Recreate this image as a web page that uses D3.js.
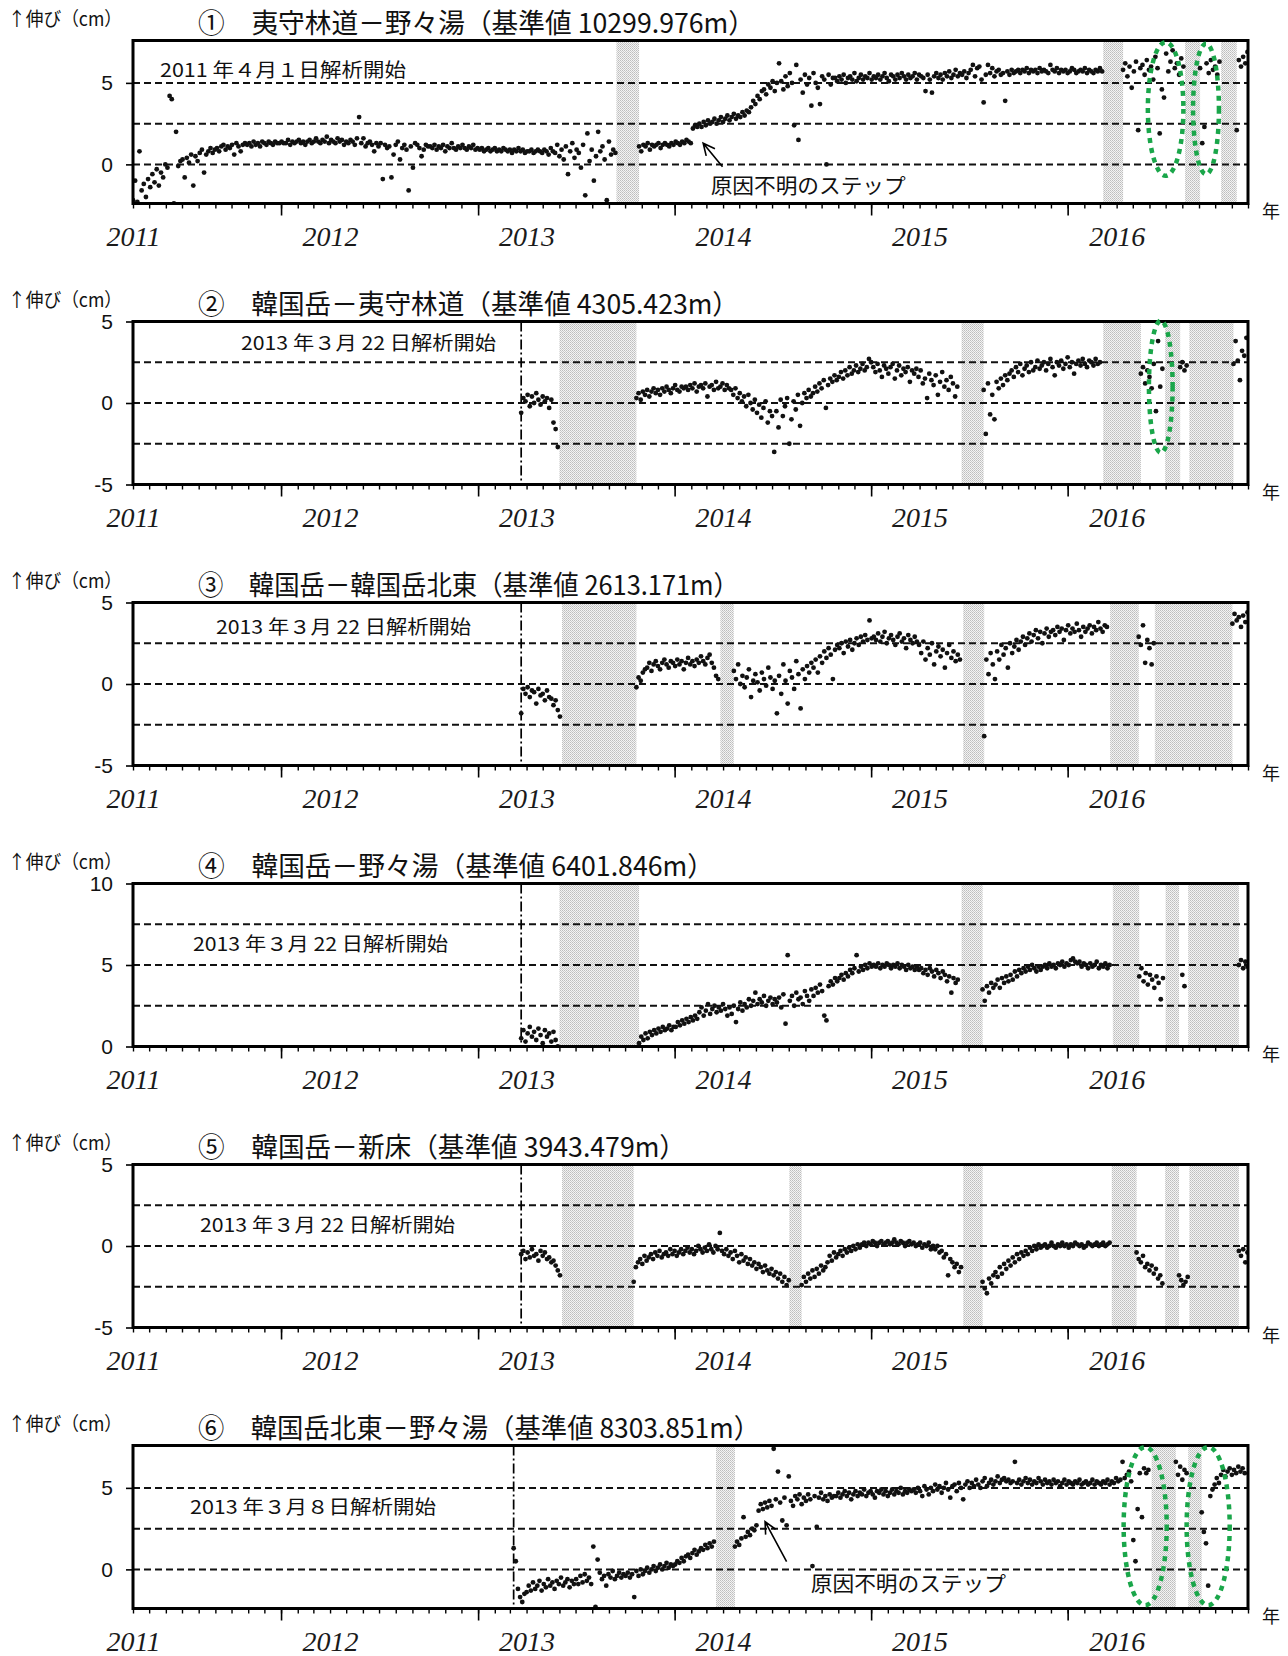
<!DOCTYPE html>
<html><head><meta charset="utf-8">
<script src="https://cdn.jsdelivr.net/npm/d3@7"></script>
<style>body{margin:0;background:#fff}svg{display:block;background:#fff}</style>
</head><body>
<svg id="c" width="1288" height="1656"></svg>
<script>
// ---------------- DATA ----------------
const STEP_DAYS = 4; // readings are sampled every 4 days inside each continuous segment
const titles = [
  "①　夷守林道－野々湯（基準値 10299.976m）",
  "②　韓国岳－夷守林道（基準値 4305.423m）",
  "③　韓国岳－韓国岳北東（基準値 2613.171m）",
  "④　韓国岳－野々湯（基準値 6401.846m）",
  "⑤　韓国岳－新床（基準値 3943.479m）",
  "⑥　韓国岳北東－野々湯（基準値 8303.851m）"
];
const notes = [
  "2011 年４月１日解析開始",
  "2013 年３月 22 日解析開始",
  "2013 年３月 22 日解析開始",
  "2013 年３月 22 日解析開始",
  "2013 年３月 22 日解析開始",
  "2013 年３月８日解析開始"
];
const analysisStart = ["2011-04-01","2013-03-22","2013-03-22","2013-03-22","2013-03-22","2013-03-08"];
const yDomains = [[-2.4,7.6],[-5,5],[-5,5],[0,10],[-5,5],[-2.4,7.6]];
const yTickVals = [[0,5],[-5,0,5],[-5,0,5],[0,5,10],[-5,0,5],[0,5]];
const gridVals = [[0,2.5,5],[-2.5,0,2.5],[-2.5,0,2.5],[2.5,5,7.5],[-2.5,0,2.5],[0,2.5,5]];
const yearLabels = ["2011","2012","2013","2014","2015","2016"];
const yearLabelDates = ["2011-04-01","2012-04-01","2013-04-01","2014-04-01","2015-04-01","2016-04-01"];
const unitLabel = "↑伸び（cm）";
const axisUnit = "年";
const stepText = "原因不明のステップ";

// Panel 1
const p1Starts = ["2011-04-01","2013-10-27","2016-04-13","2016-09-03","2016-11-10"];
const p1Values = [
 [-2.2,-1.0,-2.3,0.8,-1.6,-1.2,-2.0,-0.9,-1.4,-0.6,-1.1,-0.3,-1.3,-0.5,-0.8,0.0,-0.2,4.2,4.0,-2.4,2.0,-0.1,0.2,
  0.3,-0.8,0.4,0.1,0.6,-1.3,0.5,0.2,0.7,0.9,-0.5,0.6,0.8,1.0,0.7,0.9,1.0,0.8,1.1,1.2,0.9,1.1,1.0,
  1.2,0.6,1.3,1.1,0.8,1.2,1.3,1.2,1.3,1.1,1.4,1.2,1.3,1.1,1.4,1.3,1.2,1.4,1.3,1.2,1.4,1.3,1.3,
  1.4,1.3,1.3,1.5,1.2,1.4,1.3,1.4,1.5,1.3,1.4,1.2,1.4,1.5,1.3,1.4,1.6,1.4,1.3,1.5,1.4,1.7,1.3,
  1.5,1.4,1.3,1.6,1.4,1.5,1.2,1.4,1.3,1.5,1.4,1.2,1.6,2.9,1.3,1.6,1.1,1.3,1.4,1.2,0.8,1.3,1.1,
  1.3,-0.9,1.2,1.0,1.1,-0.8,0.6,1.2,1.4,0.3,1.0,1.2,0.9,-1.6,1.1,-0.2,1.3,1.2,1.0,0.5,0.9,1.2,1.1,
  1.1,1.0,1.2,0.9,1.1,1.0,1.2,0.8,1.1,1.0,1.3,1.0,0.9,1.1,1.0,1.2,1.0,0.9,1.1,1.0,1.2,0.9,1.0,
  0.9,1.0,0.8,0.9,1.0,0.8,0.9,1.0,0.8,0.9,0.8,1.0,0.9,0.8,0.9,0.7,0.9,0.8,1.0,0.8,0.9,0.7,0.8,
  0.8,0.9,0.7,0.8,0.9,0.8,0.7,0.9,0.8,0.6,1.0,0.8,0.7,1.2,0.5,0.9,0.3,1.1,-0.6,0.8,1.3,0.4,0.9,
  0.7,-0.2,1.2,-1.9,1.9,0.2,0.9,-1.0,0.5,2.0,0.8,1.1,0.3,-2.2,1.4,0.6,0.9,0.7],
 [1.1,0.8,1.2,1.1,1.3,0.9,1.2,1.1,1.2,1.3,1.0,1.2,1.3,1.2,1.1,1.3,1.2,1.4,1.3,1.2,1.4,1.3,1.5,1.4,1.3,
  2.2,2.4,2.3,2.5,2.3,2.6,2.4,2.7,2.5,2.6,2.8,2.5,2.7,2.9,2.6,
  2.8,3.0,2.7,2.9,3.1,2.8,3.0,2.9,3.2,3.0,3.3,3.2,
  3.5,3.9,3.7,4.2,4.0,4.5,
  4.6,4.3,4.9,4.7,5.1,4.5,5.0,6.2,
  5.1,4.6,5.4,4.8,5.6,5.0,2.4,6.1,1.5,5.2,4.4,5.5,4.9,5.3,3.6,5.6,5.0,4.7,3.7,5.4,5.2,0.0,5.5,4.9,5.3,
  5.3,5.1,5.4,5.2,5.5,5.0,5.3,5.4,5.2,5.6,5.1,5.3,5.5,5.2,5.4,5.3,5.6,5.2,
  5.4,5.3,5.5,5.2,5.4,5.6,5.3,5.1,5.5,5.4,5.2,5.5,5.3,5.6,5.4,5.2,5.5,5.3,5.4,5.6,5.2,5.5,5.4,
  5.3,4.5,5.5,5.2,4.4,5.4,5.6,5.3,5.5,5.2,5.6,5.4,5.7,5.3,5.5,5.8,5.4,5.6,5.5,5.7,5.3,5.6,5.8,
  6.1,5.4,5.9,6.0,5.2,3.8,5.5,6.1,5.6,5.9,5.4,5.7,5.8,5.5,5.6,3.9,5.7,5.5,5.8,5.6,
  5.7,5.8,5.6,5.8,5.7,5.9,5.6,5.8,5.7,5.8,5.6,5.9,5.7,5.8,5.7,5.6,6.1,5.8,5.7,5.9,5.6,5.8,5.7,5.8,5.6,5.7,5.9,5.8,5.6,5.7,5.8,5.7,5.9,5.6,5.8,5.7,5.6,5.8,5.7,5.9,5.7],
 [5.8,6.2,5.4,6.0,4.7,5.7,6.3,2.1,5.9,6.1,5.5,6.4,5.8,6.0,5.2,6.6,5.9,1.9,4.6,4.1,6.8,5.7,6.3,7.0,5.9,6.2,5.5,6.5,6.0],
 [5.9,1.3,2.3,6.2,5.6,6.4,5.8,6.0,5.5,6.3],
 [2.1,6.4,6.0,6.6,6.2,6.9]
];
const p1Bands = [["2013-09-15","2013-10-26"],["2016-03-07","2016-04-12"],["2016-08-06","2016-09-02"],["2016-10-12","2016-11-09"]];

// Panel 2
const p2Starts = ["2013-03-22","2013-10-22","2015-07-29","2016-05-16","2016-07-28","2016-11-04"];
const p2Values = [
 [-0.6,0.3,0.1,0.5,-0.2,0.4,0.0,0.6,0.2,-0.1,0.4,0.1,0.3,-0.3,0.2,-1.2,-1.6,-2.7],
 [0.3,0.6,0.2,0.7,0.5,0.8,0.4,0.7,0.9,0.6,0.8,0.5,0.9,0.7,1.0,0.8,0.6,0.9,1.1,0.8,0.7,1.0,0.9,
  1.0,0.8,1.1,0.9,1.2,0.7,1.0,1.1,0.9,1.2,0.4,1.0,1.1,0.8,1.3,0.9,1.0,1.2,0.8,1.1,0.9,
  0.8,0.5,0.9,0.3,0.6,0.1,0.4,-0.2,0.5,0.0,-0.4,0.2,-0.6,-0.1,-0.9,-0.3,0.1,-1.2,-0.5,-0.8,-3.0,
  -0.5,-1.5,0.2,-0.8,-0.2,0.3,-2.5,-1.0,0.1,-0.4,0.5,-1.4,0.0,0.6,0.3,0.8,0.4,
  0.6,1.0,0.7,1.2,0.9,1.4,-0.3,1.1,1.5,1.3,1.7,1.4,
  1.6,1.9,1.5,2.0,1.7,2.2,1.8,2.0,2.3,1.9,2.1,2.4,2.0,2.2,2.7,2.5,
  2.2,1.9,2.4,2.0,1.6,2.3,2.1,1.8,2.2,2.4,1.5,2.0,2.3,1.7,2.1,1.9,2.2,1.3,2.0,1.8,2.1,
  1.6,2.0,1.2,1.5,0.3,1.8,1.4,1.1,1.7,0.5,1.3,1.9,1.0,1.4,0.8,1.6,1.2,0.4,1.0],
 [0.8,-1.9,1.2,-0.7,0.5,-1.0,1.3,0.9,1.5,1.1,1.7,1.4,1.8,
  2.0,1.6,2.2,1.9,2.4,1.7,2.1,2.3,1.9,2.5,2.0,2.2,2.6,2.1,
  2.3,2.5,2.0,2.4,2.7,2.2,1.7,2.5,2.3,2.6,2.1,2.4,2.8,2.2,2.5,1.8,2.4,2.6,2.3,2.7,2.4,2.2,2.6,2.5,2.3,2.7,2.4,2.5],
 [1.8,2.2,1.2,2.0,1.6,0.9,2.4,-0.5,3.8,1.0,2.1],
 [2.2,2.5,2.0,2.3],
 [2.4,3.8,2.6,1.4,3.2,2.9,4.0]
];
const p2Bands = [["2013-06-01","2013-10-21"],["2015-06-18","2015-07-28"],["2016-03-07","2016-05-15"],["2016-06-30","2016-07-27"],["2016-08-14","2016-11-03"]];

// Panel 3
const p3Starts = ["2013-03-22","2013-10-22","2014-04-21","2015-07-30","2016-05-12","2016-11-02"];
const p3Values = [
 [-1.8,-0.3,-0.6,-0.2,-0.8,-0.4,-0.5,-1.2,-0.3,-0.7,-0.6,-1.0,-0.4,-0.8,-0.9,-1.3,-1.0,-1.6,-2.0],
 [-0.2,0.4,0.2,0.7,0.9,1.0,1.3,0.8,1.2,1.4,1.1,0.9,1.3,1.5,1.2,1.0,1.4,1.3,1.1,1.5,1.2,1.4,0.9,1.3,1.6,1.2,1.4,1.1,1.5,1.3,1.7,1.4,1.2,1.6,1.8,1.3,1.0,0.5,0.3],
 [0.8,0.3,1.2,0.0,0.5,-0.2,0.4,0.9,-0.8,0.2,0.6,0.1,-0.4,0.7,0.3,-0.1,1.0,0.4,-0.3,0.2,
  -1.8,0.5,-0.6,1.2,0.2,-1.2,0.8,0.4,-0.3,1.4,0.6,-1.5,0.9,0.3,1.1,0.7,1.3,
  1.0,1.5,0.7,1.7,1.3,2.0,1.6,2.2,1.8,0.3,2.1,2.4,
  2.2,2.5,1.9,2.6,2.3,2.7,2.1,2.5,2.8,2.4,2.9,2.6,3.0,2.7,3.9,2.8,
  2.9,2.7,3.1,2.6,2.9,3.2,2.5,2.8,3.0,2.7,2.4,2.9,3.1,2.6,2.8,2.2,3.0,2.7,2.5,2.9,2.6,
  2.4,1.9,2.6,1.5,2.2,1.8,2.5,1.2,2.0,2.3,1.7,2.1,1.0,1.9,2.4,1.6,2.0,1.4,1.8,1.5],
 [-3.2,1.5,0.6,1.9,1.2,0.3,
  2.0,1.5,2.4,1.8,2.2,1.0,2.5,1.9,2.3,2.7,2.1,2.6,2.9,2.4,
  2.8,3.1,2.6,3.0,3.3,2.8,3.2,2.5,3.1,3.4,2.9,3.2,
  3.3,3.0,3.5,3.2,3.4,2.7,3.3,3.6,3.1,3.4,3.2,3.7,3.3,2.9,3.5,3.2,3.4,3.6,3.1,3.5,3.3,3.8,3.4,3.2,3.6,3.5],
 [2.9,2.4,3.6,1.3,2.7,2.2,1.2,2.5],
 [3.7,4.3,3.9,4.1,3.5,4.2,3.8,4.4]
];
const p3Bands = [["2013-06-06","2013-10-21"],["2014-03-27","2014-04-20"],["2015-06-21","2015-07-29"],["2016-03-20","2016-05-11"],["2016-06-11","2016-11-01"]];

// Panel 4
const p4Starts = ["2013-03-22","2013-10-27","2015-07-27","2016-05-13","2016-08-01","2016-11-14"];
const p4Values = [
 [0.5,1.0,0.3,0.8,1.2,0.6,0.9,0.4,1.1,0.7,0.2,1.0,0.6,0.8,0.3,0.9,0.4,0.0],
 [0.2,0.6,0.4,0.8,0.5,0.9,0.7,1.0,0.8,1.1,0.9,1.2,1.0,1.1,1.3,1.0,1.2,
  1.2,1.5,1.3,1.6,1.4,1.7,1.5,1.8,1.6,1.9,1.7,2.1,2.4,1.9,2.2,2.6,2.0,2.3,2.5,2.1,2.4,2.2,2.6,2.3,1.9,2.4,
  2.0,2.5,1.5,2.3,2.7,2.2,2.6,2.4,2.9,2.5,2.8,3.3,2.6,2.9,2.7,3.1,2.5,2.8,3.0,2.6,2.9,
  2.7,3.0,2.4,3.2,1.4,5.6,2.8,3.1,2.5,3.3,2.9,3.0,2.6,3.4,3.1,2.8,3.5,
  3.1,3.6,3.3,3.8,3.4,1.9,1.6,3.7,4.0,3.8,4.2,4.0,
  4.2,4.4,4.1,4.5,4.3,4.7,4.5,4.8,5.6,4.6,4.9,4.7,5.0,4.8,5.1,4.9,
  5.0,4.9,5.1,4.8,5.0,4.9,5.1,5.0,4.8,5.0,4.9,5.1,4.8,5.0,4.9,4.7,5.0,4.8,4.9,4.7,4.9,
  4.7,4.8,4.5,4.7,4.4,4.8,4.6,4.3,4.7,4.5,4.2,4.6,4.4,4.0,4.3,3.3,4.2,3.9,4.1],
 [3.5,2.8,3.7,3.3,3.9,3.6,
  3.8,4.1,3.6,4.2,3.9,4.3,4.0,4.4,4.1,4.6,4.3,4.7,4.5,
  4.8,4.6,4.9,4.7,5.0,4.8,4.6,4.9,4.7,
  4.9,5.0,4.8,5.1,4.9,5.0,4.8,5.1,5.0,5.2,4.9,5.1,5.0,5.3,5.4,5.2,
  5.1,5.2,4.9,5.1,5.0,4.8,5.1,4.9,5.0,5.2,4.8,5.0,4.9,5.1,4.8,5.0],
 [4.3,4.8,4.0,4.5,3.8,4.4,4.1,3.6,4.3,3.9,2.9,4.2],
 [4.4,3.7],
 [5.0,5.3,4.8,5.2,4.9]
];
const p4Bands = [["2013-06-01","2013-10-26"],["2015-06-18","2015-07-26"],["2016-03-25","2016-05-12"],["2016-07-01","2016-07-25"],["2016-08-12","2016-11-13"]];

// Panel 5
const p5Starts = ["2013-03-22","2013-10-17","2014-08-25","2015-07-27","2016-05-08","2016-07-26","2016-11-14"];
const p5Values = [
 [-0.5,-0.3,-0.8,-0.4,-0.7,-0.2,-0.6,-0.5,-0.9,-0.3,-0.6,-0.4,-0.8,-0.7,-1.0,-0.9,-1.2,-1.5,-1.8],
 [-2.2,-1.3,-1.0,-0.8,-1.1,-0.6,-0.9,
  -0.7,-0.5,-0.8,-0.4,-0.6,-0.3,-0.7,-0.5,-0.4,-0.6,-0.2,-0.5,-0.3,-0.6,-0.4,-0.2,-0.5,-0.3,-0.1,-0.4,-0.2,-0.5,-0.3,0.0,-0.2,-0.4,-0.1,-0.3,0.1,-0.2,-0.4,0.0,-0.2,0.8,-0.3,-0.5,-0.2,-0.6,
  -0.4,-0.8,-0.3,-0.6,-1.0,-0.5,-0.9,-0.7,-1.1,-0.8,-1.2,-1.0,-1.4,-1.1,-1.3,-1.6,-1.2,-1.5,-1.7,-1.4,-1.8,-1.6,-2.0,-1.7,-2.2,-1.9,-2.4,-2.1],
 [-2.4,-1.9,-2.2,-1.7,-2.0,-1.5,-1.9,-1.4,-1.7,-1.2,-1.5,-1.3,
  -1.0,-0.6,-0.9,-0.4,-0.7,
  -0.5,-0.3,-0.6,-0.2,-0.4,-0.1,-0.3,0.0,-0.2,0.1,-0.1,
  0.1,0.2,0.0,0.2,0.1,0.3,0.2,0.0,0.2,0.3,0.1,0.2,0.3,0.1,0.2,0.4,0.2,0.1,0.3,0.2,0.0,0.2,0.3,0.1,0.2,0.0,0.1,0.2,-0.1,0.1,0.0,0.2,-0.2,0.0,
  -0.2,0.0,-0.4,-0.3,-0.7,-0.5,-1.8,-0.8,-1.0,-1.3,-1.1,-1.6,-1.3],
 [-2.2,-2.6,-2.9,-2.0,-2.3,-1.8,
  -1.6,-1.9,-1.3,-1.7,-1.1,-1.4,-0.9,-1.2,-0.7,-1.0,-0.5,-0.8,-0.4,-0.6,
  -0.3,-0.5,-0.1,-0.3,0.0,-0.2,0.1,-0.1,
  0.0,0.1,-0.1,0.0,0.2,0.0,-0.1,0.1,0.0,0.2,0.0,0.1,-0.1,0.1,0.0,0.2,0.1,0.0,0.1,-0.1,0.0,0.2,0.1,0.0,0.1,0.2,0.0,0.1,0.2,0.0,0.1,0.2],
 [-0.4,-0.8,-1.0,-0.6,-1.3,-1.1,-1.5,-1.2,-1.7,-1.4,-2.0,-1.8,-2.3],
 [-1.8,-2.1,-2.4,-2.2,-1.9],
 [-0.3,-0.6,-0.2,-1.0,-0.4]
];
const p5Bands = [["2013-06-06","2013-10-16"],["2014-08-02","2014-08-24"],["2015-06-21","2015-07-26"],["2016-03-23","2016-05-07"],["2016-06-30","2016-07-25"],["2016-08-14","2016-11-13"]];

// Panel 6
const p6Starts = ["2013-03-08","2014-04-23","2014-06-06","2016-07-20","2016-09-06"];
const p6Values = [
 [1.3,0.5,-1.2,-1.7,-2.0,-1.5,
  -1.4,-1.0,-1.3,-0.8,-1.2,-1.0,-0.7,-1.3,-0.9,-1.1,-0.6,-1.0,-0.8,-1.2,-0.7,-0.9,-0.5,-1.0,-0.8,-0.6,-1.1,-0.7,-0.9,
  -0.6,-0.9,-0.4,-0.8,-0.3,-0.7,-0.5,-0.9,1.4,-2.3,0.6,-0.2,-0.6,-0.4,-1.0,-0.3,-0.5,-0.1,-0.6,-0.4,-0.2,-0.5,-0.3,
  -0.4,-0.2,-0.5,-0.3,-1.7,-0.1,-0.4,0.0,-0.3,-0.1,0.1,-0.2,0.0,0.2,-0.1,0.1,0.3,0.0,0.2,0.4,0.1,0.3,0.2,
  0.3,0.5,0.4,0.7,0.5,0.8,0.9,0.7,1.0,1.2,0.9,1.1,1.3,1.2,1.5,1.3,1.6,1.4,1.7],
 [1.4,1.7,1.5,1.9,3.2,2.0,2.3,2.1,2.5,2.4,2.7],
 [3.6,4.0,3.7,4.1,3.8,4.2,3.9,7.4,
  4.3,6.0,4.1,3.0,4.4,2.7,5.7,4.2,3.9,4.5,4.3,4.6,4.0,
  4.4,4.2,4.6,4.3,0.2,4.5,2.6,4.4,4.7,4.3,4.5,4.2,4.6,4.4,4.5,
  4.5,4.7,4.4,4.6,4.8,4.5,4.7,4.3,4.6,4.8,4.5,4.7,4.6,4.9,4.5,4.7,4.8,4.6,4.4,4.8,4.7,4.9,4.6,4.8,4.5,4.7,4.9,4.6,4.8,4.7,5.0,4.6,4.8,4.7,4.9,4.8,
  4.9,4.7,5.0,4.8,4.5,5.1,4.9,4.6,5.0,4.8,5.2,4.9,5.1,4.7,5.0,5.3,4.9,4.4,5.1,5.2,4.8,5.3,5.0,4.3,5.2,5.4,5.0,5.3,5.1,5.5,5.2,5.0,5.4,5.6,5.1,5.3,5.5,5.2,5.4,5.7,5.3,5.5,5.6,5.4,5.5,5.3,
  5.4,6.6,5.3,5.5,5.2,5.4,5.6,5.3,5.5,5.2,5.4,5.3,5.6,5.4,5.2,5.5,5.3,5.4,5.2,5.5,5.3,5.4,5.1,5.3,5.5,5.2,5.4,5.3,5.2,5.4,5.3,5.5,5.2,5.3,5.4,5.2,5.3,5.5,5.2,5.4,5.3,5.2,5.4,5.3,5.5,5.2,5.4,5.3,5.6,5.4,
  5.5,6.6,5.6,5.8,6.0,5.4,1.8,0.5,3.7,5.9,3.2,6.2,5.9,6.1],
 [6.6,5.8,6.3,5.5,6.1,5.9],
 [3.5,2.3,1.6,-1.0,4.5,4.9,5.2,5.6,5.3,5.8,6.1,5.7,6.0,6.2,5.8,6.1,5.9,6.3,6.0,6.2,5.9]
];
const p6Bands = [["2014-03-19","2014-04-22"],["2016-06-05","2016-07-19"],["2016-08-12","2016-09-05"]];

// highlighted periods (green dotted ellipses): [centre date, centre value, half-width days, half-height cm]
const p1Ellipses = [["2016-07-01",3.4,33,4.1],["2016-09-14",3.4,24,4.0]];
const p2Ellipses = [["2016-06-22",1.0,22,4.05]];
const p6Ellipses = [["2016-05-24",2.65,40,4.85],["2016-09-18",2.65,40,4.85]];
// "unknown-cause step" arrows: panel index, tip [date,value], tail [date,value], text anchor [date,value]
const stepPanels = [0,5];
const stepTips = [["2014-02-23",1.3],["2014-06-18",2.93]];
const stepTails = [["2014-03-31",-0.15],["2014-07-28",0.47]];
const stepTextAt = [["2014-03-09",-1.75],["2014-09-11",-1.33]];

// ---------------- LAYOUT ----------------
const X0 = 133, X1 = 1248, PH = 163;
const panelTop = [40.5, 321.5, 602.5, 883.5, 1164.5, 1445.5];
const titleWidth = [557, 541, 541, 516, 488, 562];
const noteX = [160, 241, 216, 193, 200, 190];
const noteW = [246, 255, 255, 255, 255, 246];
const noteDy = [36, 28, 31, 67, 67, 68];

const parse = d3.timeParse("%Y-%m-%d");
const x = d3.scaleTime().domain([parse("2011-04-01"), parse("2016-12-01")]).range([X0, X1]);

const panels = [
  {starts:p1Starts, values:p1Values, bands:p1Bands, ell:p1Ellipses},
  {starts:p2Starts, values:p2Values, bands:p2Bands, ell:p2Ellipses},
  {starts:p3Starts, values:p3Values, bands:p3Bands, ell:[]},
  {starts:p4Starts, values:p4Values, bands:p4Bands, ell:[]},
  {starts:p5Starts, values:p5Values, bands:p5Bands, ell:[]},
  {starts:p6Starts, values:p6Values, bands:p6Bands, ell:p6Ellipses}
];
function toPoints(starts, values){
  return starts.flatMap((s,i)=>values[i].map((v,j)=>({d:d3.timeDay.offset(parse(s), j*STEP_DAYS), v})));
}

const svg = d3.select("#c");
const defs = svg.append("defs");
const pat = defs.append("pattern").attr("id","dots").attr("width",2).attr("height",2).attr("patternUnits","userSpaceOnUse");
pat.append("rect").attr("width",2).attr("height",2).attr("fill","#f3f3f3");
pat.append("rect").attr("width",1).attr("height",1).attr("fill","#bdbdbd");
pat.append("rect").attr("x",1).attr("y",1).attr("width",1).attr("height",1).attr("fill","#cbcbcb");

const CJK = "'Noto Sans CJK JP','Noto Sans CJK SC',sans-serif";
const yScales = [];

panels.forEach((p,i)=>{
  const T = panelTop[i], B = T + PH;
  const y = d3.scaleLinear().domain(yDomains[i]).range([B, T]);
  yScales.push(y);
  const g = svg.append("g");
  defs.append("clipPath").attr("id","clip"+i).append("rect")
    .attr("x",X0).attr("y",T).attr("width",X1-X0).attr("height",PH);

  // shaded (no-data) periods
  g.append("g").selectAll("rect").data(p.bands).join("rect")
    .attr("x", d=>x(parse(d[0])))
    .attr("width", d=>x(d3.timeDay.offset(parse(d[1]),1)) - x(parse(d[0])))
    .attr("y", T).attr("height", PH).attr("fill","url(#dots)");

  // dashed reference lines
  g.append("g").selectAll("line").data(gridVals[i]).join("line")
    .attr("x1",X0).attr("x2",X1).attr("y1",d=>y(d)).attr("y2",d=>y(d))
    .attr("stroke","#111").attr("stroke-width",2).attr("stroke-dasharray","7,4");

  // analysis start line
  const sx = x(parse(analysisStart[i]));
  g.append("line").attr("x1",sx).attr("x2",sx).attr("y1",T).attr("y2",B)
    .attr("stroke","#000").attr("stroke-width",1.7).attr("stroke-dasharray","10,3,2,3");

  // data points
  g.append("g").attr("clip-path",`url(#clip${i})`).selectAll("circle")
    .data(toPoints(p.starts, p.values)).join("circle")
    .attr("cx",d=>x(d.d)).attr("cy",d=>y(d.v)).attr("r",2.4).attr("fill","#111");

  // frame
  g.append("rect").attr("x",X0).attr("y",T).attr("width",X1-X0).attr("height",PH)
    .attr("fill","none").attr("stroke","#000").attr("stroke-width",3);

  // y axis
  const ya = g.append("g").attr("transform",`translate(${X0},0)`)
    .call(d3.axisLeft(y).tickValues(yTickVals[i]).tickSize(7).tickPadding(13).tickFormat(d=>String(d)));
  ya.select(".domain").remove();
  ya.selectAll("line").attr("stroke","#000").attr("stroke-width",1.6);
  ya.selectAll("text").attr("font-family","'Liberation Sans',Arial,sans-serif").attr("font-size",21).attr("fill","#111");

  // x axis: monthly ticks, long ticks at January
  const xm = g.append("g").attr("transform",`translate(0,${B})`)
    .call(d3.axisBottom(x).ticks(d3.timeMonth.every(1)).tickSize(5).tickFormat(""));
  xm.select(".domain").remove();
  xm.selectAll("line").attr("stroke","#000").attr("stroke-width",1.4);
  const xy = g.append("g").attr("transform",`translate(0,${B})`)
    .call(d3.axisBottom(x).ticks(d3.timeYear.every(1)).tickSize(12).tickFormat(""));
  xy.select(".domain").remove();
  xy.selectAll("line").attr("stroke","#000").attr("stroke-width",1.6);
  const xl = g.append("g").attr("transform",`translate(0,${B})`)
    .call(d3.axisBottom(x).tickValues(yearLabelDates.map(parse)).tickSize(0)
      .tickFormat((d,k)=>yearLabels[k]));
  xl.select(".domain").remove();
  xl.selectAll("text").attr("y",42).attr("dy",null)
    .attr("font-family","'Liberation Serif','Times New Roman',serif")
    .attr("font-style","italic").attr("font-size",28).attr("fill","#1a1a1a");

  g.append("text").attr("x",1271).attr("y",B+14).attr("text-anchor","middle")
    .attr("font-family",CJK).attr("font-size",18).attr("fill","#111").text(axisUnit);

  // titles
  g.append("text").attr("x",8).attr("y",T-15).attr("font-family",CJK).attr("font-size",19)
    .attr("textLength",114).attr("lengthAdjust","spacingAndGlyphs").attr("fill","#111").text(unitLabel);
  g.append("text").attr("x",198).attr("y",T-8).attr("font-family",CJK).attr("font-size",27)
    .attr("textLength",titleWidth[i]).attr("lengthAdjust","spacingAndGlyphs").attr("fill","#111").text(titles[i]);

  // analysis-start note
  g.append("text").attr("x",noteX[i]).attr("y",T+noteDy[i]).attr("font-family",CJK).attr("font-size",19)
    .attr("textLength",noteW[i]).attr("lengthAdjust","spacingAndGlyphs").attr("fill","#111").text(notes[i]);

  // green dotted ellipses
  g.append("g").selectAll("ellipse").data(p.ell).join("ellipse")
    .attr("cx",d=>x(parse(d[0]))).attr("cy",d=>y(d[1]))
    .attr("rx",d=>x(d3.timeDay.offset(parse(d[0]),d[2]))-x(parse(d[0])))
    .attr("ry",d=>y(d[1]-d[3])-y(d[1]))
    .attr("fill","none").attr("stroke","#1aa64a").attr("stroke-width",4.5).attr("stroke-dasharray","5,5");
});

// step annotations
stepPanels.forEach((pi,k)=>{
  const y = yScales[pi];
  const tip = [x(parse(stepTips[k][0])), y(stepTips[k][1])];
  const tail = [x(parse(stepTails[k][0])), y(stepTails[k][1])];
  const ang = Math.atan2(tail[1]-tip[1], tail[0]-tip[0]);
  const L = 13, a = 0.45;
  const h1 = [tip[0]+L*Math.cos(ang+a), tip[1]+L*Math.sin(ang+a)];
  const h2 = [tip[0]+L*Math.cos(ang-a), tip[1]+L*Math.sin(ang-a)];
  svg.append("path")
    .attr("d",`M${tail[0]},${tail[1]}L${tip[0]},${tip[1]}M${h1[0]},${h1[1]}L${tip[0]},${tip[1]}L${h2[0]},${h2[1]}`)
    .attr("fill","none").attr("stroke","#000").attr("stroke-width",1.6);
  svg.append("text").attr("x",x(parse(stepTextAt[k][0]))).attr("y",y(stepTextAt[k][1]))
    .attr("font-family",CJK).attr("font-size",21).attr("textLength",195).attr("lengthAdjust","spacingAndGlyphs")
    .attr("fill","#111").text(stepText);
});
</script>
</body></html>
